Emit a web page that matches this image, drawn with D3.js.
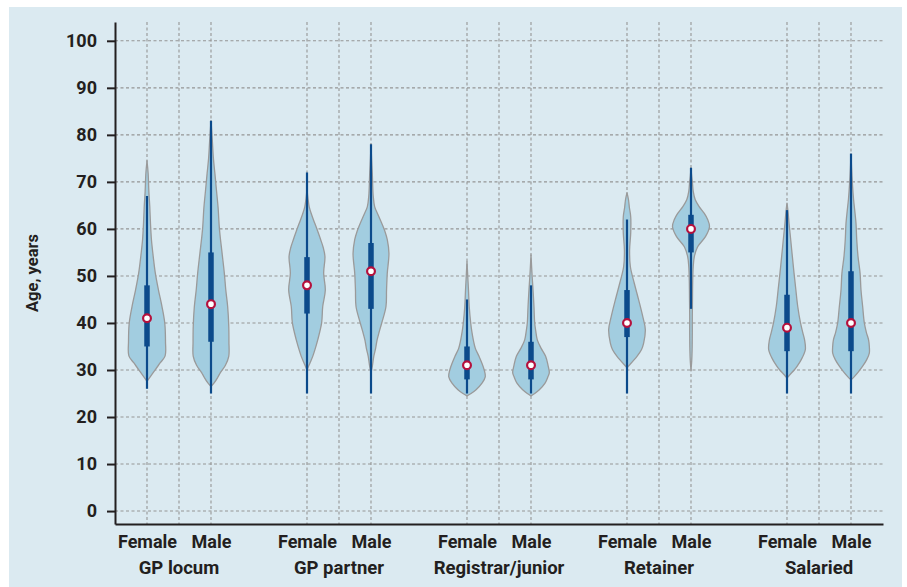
<!DOCTYPE html>
<html>
<head>
<meta charset="utf-8">
<script src="https://cdn.jsdelivr.net/npm/d3@7"></script>
<style>
  html, body { margin: 0; padding: 0; background: #ffffff; }
  svg { display: block; }
  text { font-family: Roboto, "Liberation Sans", sans-serif; font-weight: 700; fill: #231f20; }
</style>
</head>
<body>
<svg id="chart" width="907" height="587"></svg>
<script>
// ---------------- DATA ----------------
const groups = ["GP locum", "GP partner", "Registrar/junior", "Retainer", "Salaried"];
const sexes = ["Female", "Male"];
const yTicks = [0, 10, 20, 30, 40, 50, 60, 70, 80, 90, 100];
const yTitle = "Age, years";

// one entry per violin, order: group-major, Female then Male
const whiskerLow  = [26, 25, 25, 25, 25, 25, 25, 43, 25, 25];
const whiskerHigh = [67, 83, 72, 78, 45, 48, 62, 73, 64, 76];
const q1          = [35, 36, 42, 43, 28, 28, 37, 55, 34, 34];
const q3          = [48, 55, 54, 57, 35, 36, 47, 63, 46, 51];
const medians     = [41, 44, 48, 51, 31, 31, 40, 60, 39, 40];

// kernel density profiles: [age, relative density]
const densGPLocumF = [[27.6,0],[28.8,0.22],[30.2,0.47],[31.6,0.73],[33,0.98],[36,1],[40,0.96],[43.5,0.81],[47,0.62],[50.6,0.45],[54,0.34],[57.7,0.24],[61,0.19],[64.7,0.15],[68,0.1],[71.9,0.06],[74.5,0]];
const densGPLocumM = [[26.5,0],[27.3,0.18],[28.4,0.36],[29.4,0.5],[31,0.78],[32.9,0.96],[36,0.97],[39.3,0.96],[43.5,0.9],[47,0.8],[50.6,0.72],[54.8,0.6],[59.8,0.46],[64.7,0.38],[68,0.3],[71.8,0.21],[75,0.13],[78.9,0.07],[83,0]];
const densGPPartnerF = [[30,0],[31.4,0.15],[32.9,0.31],[34.6,0.45],[36.4,0.58],[40,0.79],[43.5,0.85],[47,0.99],[50.6,0.9],[54.1,0.97],[56,0.88],[57.7,0.74],[59.5,0.58],[61.2,0.42],[63,0.25],[64.7,0.12],[66.5,0.05],[68.5,0]];
const densGPPartnerM = [[29.4,0],[31,0.08],[32.9,0.15],[34.6,0.25],[36.4,0.33],[38.2,0.45],[40,0.58],[43.5,0.81],[47,0.84],[50.6,0.88],[54.8,0.97],[57.7,0.88],[59.5,0.75],[61.2,0.58],[63,0.38],[64.7,0.2],[67,0.12],[71.8,0.07],[75,0.03],[78,0]];
const densRegistrarF = [[24.5,0],[25,0.22],[25.8,0.49],[27.2,0.81],[28.6,0.99],[30,0.93],[31.5,0.8],[32.9,0.65],[34.6,0.45],[36.4,0.34],[38.2,0.26],[40,0.2],[43.5,0.12],[47,0.08],[50,0.04],[53.1,0]];
const densRegistrarM = [[24.5,0],[25,0.2],[25.8,0.45],[27.2,0.76],[28.6,0.92],[29.4,0.99],[31,0.92],[32.9,0.79],[34.6,0.55],[36.4,0.34],[38.2,0.26],[40,0.2],[43.5,0.16],[47,0.11],[50,0.06],[54.5,0]];
const densRetainerF = [[30.5,0],[30.8,0.07],[32.9,0.54],[34.3,0.78],[35.7,0.9],[38.6,0.99],[41.4,0.85],[44.9,0.63],[48.5,0.39],[52,0.18],[55.5,0.14],[59.1,0.2],[62.6,0.2],[64.5,0.13],[66.2,0.08],[67.7,0]];
const densRetainerM = [[29.9,0],[32,0.04],[34.3,0.06],[38,0.07],[41.4,0.07],[45,0.08],[48.5,0.09],[52,0.12],[54.1,0.18],[56.2,0.36],[58.4,0.79],[60.5,1],[62,0.9],[63.3,0.72],[64.7,0.45],[66.2,0.23],[68,0.12],[69.7,0.08],[71.5,0.03],[73,0]];
const densSalariedF = [[28.3,0],[29,0.15],[30,0.39],[31,0.58],[32.2,0.77],[34.3,0.99],[36.4,0.95],[38,0.85],[40,0.73],[43.5,0.58],[47,0.48],[50.6,0.38],[54.1,0.29],[57.7,0.2],[61.2,0.11],[63.5,0.06],[65.5,0]];
const densSalariedM = [[27.9,0],[28.6,0.18],[29.6,0.4],[30.8,0.63],[32.2,0.85],[33.6,0.99],[35,0.99],[36.4,0.95],[38,0.83],[40,0.72],[43.5,0.63],[47,0.54],[50.6,0.49],[54.1,0.38],[57.7,0.31],[61.2,0.27],[64,0.2],[66.2,0.14],[70,0.07],[73,0.03],[76,0]];

const densities = [densGPLocumF, densGPLocumM, densGPPartnerF, densGPPartnerM,
  densRegistrarF, densRegistrarM, densRetainerF, densRetainerM, densSalariedF, densSalariedM];

// ---------------- BUILD ----------------
const violins = densities.map((dens, i) => ({
  group: Math.floor(i / 2),
  sex: i % 2,
  dens,
  lo: whiskerLow[i], hi: whiskerHigh[i], q1: q1[i], q3: q3[i], med: medians[i]
}));
const slotsPerGroup = 5;
const slotOf = d => d.group * slotsPerGroup + d.sex * 2;

const svg = d3.select("#chart");

svg.append("rect").attr("x", 9).attr("y", 7).attr("width", 893).attr("height", 580)
  .attr("fill", "#dbeaf1");

const x = d3.scaleLinear().domain([-1, 23]).range([115, 883]);
const y = d3.scaleLinear().domain([-2.75, 104]).range([524, 22]);
const w = d3.scaleLinear().domain([0, 1]).range([0, 18.5]);

const grid = svg.append("g").attr("stroke", "#959595").attr("stroke-width", 1.1)
  .attr("stroke-dasharray", "3,2.5").attr("fill", "none");

// horizontal gridlines
grid.selectAll("line.h").data(yTicks).join("line").attr("class", "h")
  .attr("x1", x(-1)).attr("x2", x(23)).attr("y1", d => y(d)).attr("y2", d => y(d));

// vertical gridlines: female, middle, male slot of each group
const vSlots = [];
groups.forEach((g, gi) => { [0, 1, 2].forEach(k => vSlots.push(gi * slotsPerGroup + k)); });
grid.selectAll("line.v").data(vSlots).join("line").attr("class", "v")
  .attr("x1", d => x(d)).attr("x2", d => x(d)).attr("y1", y(104)).attr("y2", y(-2.75));

// y axis
const yAxis = svg.append("g").attr("transform", `translate(${x(-1)},0)`)
  .call(d3.axisLeft(y).tickValues(yTicks).tickSize(8).tickSizeOuter(0).tickPadding(10));
yAxis.select(".domain").attr("stroke", "#231f20").attr("stroke-width", 2);
yAxis.selectAll(".tick line").attr("stroke", "#231f20").attr("stroke-width", 2);
yAxis.selectAll(".tick text").style("font-family", "Roboto, sans-serif").style("font-weight", 700)
  .style("font-size", "18px").attr("fill", "#231f20");

// x axis
const xAxis = svg.append("g").attr("transform", `translate(0,${y(-2.75)})`)
  .call(d3.axisBottom(x).tickValues(violins.map(slotOf))
    .tickFormat((d, i) => sexes[violins[i].sex]).tickSize(0).tickSizeOuter(0).tickPadding(11));
xAxis.select(".domain").attr("stroke", "#231f20").attr("stroke-width", 2);
xAxis.selectAll(".tick text").style("font-family", "Roboto, sans-serif").style("font-weight", 700)
  .style("font-size", "18px").attr("fill", "#231f20");

// group labels
svg.append("g").selectAll("text").data(groups).join("text")
  .attr("x", (d, i) => x(i * slotsPerGroup + 1)).attr("y", 574)
  .attr("text-anchor", "middle").style("font-size", "18.5px").text(d => d);

// y title
svg.append("text").attr("transform", `translate(38,273) rotate(-90)`)
  .attr("text-anchor", "middle").style("font-size", "16.5px").text(yTitle);

// violins
const vg = svg.append("g");
violins.forEach(d => {
  const cx = x(slotOf(d));
  const a = d3.area()
    .y(p => y(p[0]))
    .x0(p => cx - w(p[1]))
    .x1(p => cx + w(p[1]))
    .curve(d3.curveCatmullRom.alpha(0.5));
  vg.append("path").attr("d", a(d.dens))
    .attr("fill", "#a2cde0").attr("stroke", "#9a9a9a").attr("stroke-width", 1.3)
    .attr("stroke-linejoin", "round");
  // whisker
  vg.append("line").attr("x1", cx).attr("x2", cx).attr("y1", y(d.lo)).attr("y2", y(d.hi))
    .attr("stroke", "#0b4a8b").attr("stroke-width", 2.2);
  // IQR
  vg.append("line").attr("x1", cx).attr("x2", cx).attr("y1", y(d.q1)).attr("y2", y(d.q3))
    .attr("stroke", "#0b4a8b").attr("stroke-width", 5.5);
  // median
  vg.append("circle").attr("cx", cx).attr("cy", y(d.med)).attr("r", 3.9)
    .attr("fill", "#ffffff").attr("stroke", "#b5113d").attr("stroke-width", 2.2);
});
</script>
</body>
</html>
